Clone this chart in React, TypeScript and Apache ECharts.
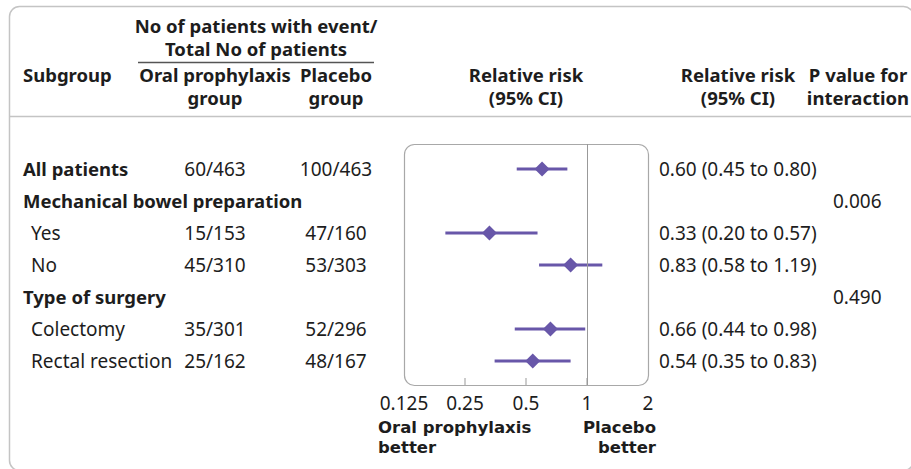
import React, { useEffect, useRef } from "react";
import * as echarts from "echarts";

const subgroups = [
  "All patients",
  "Mechanical bowel preparation",
  "Yes",
  "No",
  "Type of surgery",
  "Colectomy",
  "Rectal resection",
];
const isHeading = [true, true, false, false, true, false, false];
const oralCounts = ["60/463", "", "15/153", "45/310", "", "35/301", "25/162"];
const placeboCounts = ["100/463", "", "47/160", "53/303", "", "52/296", "48/167"];
const rr: (number | null)[] = [0.6, null, 0.33, 0.83, null, 0.66, 0.54];
const lower: (number | null)[] = [0.45, null, 0.2, 0.58, null, 0.44, 0.35];
const upper: (number | null)[] = [0.8, null, 0.57, 1.19, null, 0.98, 0.83];
const rrText = [
  "0.60 (0.45 to 0.80)",
  "",
  "0.33 (0.20 to 0.57)",
  "0.83 (0.58 to 1.19)",
  "",
  "0.66 (0.44 to 0.98)",
  "0.54 (0.35 to 0.83)",
];
const pInteraction = ["", "0.006", "", "", "0.490", "", ""];
const xMin = 0.125;
const xMax = 2;
const refValue = 1;
const innerTicks = [0.25, 0.5, 1];

const FONT = "'Noto Sans', sans-serif";
const FS = 19;
const FSB = 18.5;
const INK = "#1d1d1d";
const PURPLE = "#6857a9";

export default function App() {
  const ref = useRef<HTMLDivElement>(null);
  useEffect(() => {
    document.body.style.margin = "0";
    const chart = echarts.init(ref.current!, undefined, { renderer: "svg" });
    const gridLeft = 404;
    const gridTop = 144;
    const gridW = 244;
    const gridH = 241;
    const yMin = -0.78;
    const yMax = 6.75;

    const ciData: any[] = [];
    const ptData: any[] = [];
    rr.forEach((v, i) => {
      if (v != null) {
        ciData.push([lower[i], upper[i], i]);
        ptData.push([v, i]);
      }
    });

    chart.setOption({
      animation: false,
      textStyle: { fontFamily: FONT },
      grid: { left: gridLeft, top: gridTop, width: gridW, height: gridH },
      xAxis: {
        type: "log",
        logBase: 2,
        min: xMin,
        max: xMax,
        axisLine: { show: false },
        axisTick: { show: false },
        axisLabel: {
          fontSize: FS,
          color: INK,
          margin: 8,
          fontFamily: FONT,
          formatter: (v: number) => String(v),
        },
        splitLine: { show: false },
      },
      yAxis: {
        type: "value",
        inverse: true,
        min: yMin,
        max: yMax,
        show: false,
      },
      series: [
        {
          type: "custom",
          silent: true,
          data: innerTicks.map((t) => [t]),
          renderItem: (params: any, api: any) => {
            const a = api.coord([api.value(0), yMax]);
            return {
              type: "line",
              shape: { x1: a[0], y1: a[1], x2: a[0], y2: a[1] - 7 },
              style: { stroke: "#999", lineWidth: 1 },
            };
          },
          z: 2,
        },
        {
          type: "custom",
          silent: true,
          data: ciData,
          renderItem: (params: any, api: any) => {
            const a = api.coord([api.value(0), api.value(2)]);
            const b = api.coord([api.value(1), api.value(2)]);
            return {
              type: "line",
              shape: { x1: a[0], y1: a[1], x2: b[0], y2: b[1] },
              style: { stroke: PURPLE, lineWidth: 3 },
            };
          },
          markLine: {
            silent: true,
            symbol: "none",
            label: { show: false },
            lineStyle: { color: "#999", width: 1, type: "solid" },
            data: [{ xAxis: refValue }],
          },
          z: 3,
        },
        {
          type: "scatter",
          silent: true,
          symbol: "diamond",
          symbolSize: [15, 15],
          itemStyle: { color: PURPLE, opacity: 1 },
          data: ptData,
          z: 4,
        },
      ],
    });

    const rowY = (i: number) => chart.convertToPixel({ gridIndex: 0 }, [1, i])[1];
    const g: any[] = [];
    const txt = (
      x: number,
      y: number,
      s: string,
      align = "left",
      bold = false,
      size = bold ? FSB : FS,
      family = FONT
    ) =>
      g.push({
        type: "text",
        x,
        y,
        silent: true,
        style: {
          text: s,
          x: 0,
          y: 0,
          align,
          verticalAlign: "middle",
          font: `${bold ? "bold " : ""}${size}px ${family}`,
          fill: INK,
        },
      });

    // outer frame
    g.push({
      type: "rect",
      shape: { x: 9.5, y: 6.5, width: 904, height: 464, r: 10 },
      style: { fill: "none", stroke: "#c4c4c4", lineWidth: 1.5 },
      z: 0,
    });
    // header separator
    g.push({
      type: "line",
      shape: { x1: 9, y1: 116.5, x2: 911, y2: 116.5 },
      style: { stroke: "#c4c4c4", lineWidth: 1.5 },
    });
    // plot box
    g.push({
      type: "rect",
      shape: { x: gridLeft + 0.5, y: gridTop + 0.5, width: gridW, height: gridH, r: 10 },
      style: { fill: "none", stroke: "#a8a8a8", lineWidth: 1.2 },
      z: 1,
    });
    // header
    txt(256, 25, "No of patients with event/", "center", true);
    txt(256, 48, "Total No of patients", "center", true);
    g.push({
      type: "line",
      shape: { x1: 138, y1: 62.5, x2: 374, y2: 62.5 },
      style: { stroke: "#555", lineWidth: 1.5 },
    });
    txt(23, 74, "Subgroup", "left", true);
    const hdr: [number, string, string][] = [
      [215, "Oral prophylaxis", "group"],
      [336, "Placebo", "group"],
      [526, "Relative risk", "(95% CI)"],
      [738, "Relative risk", "(95% CI)"],
      [858, "P value for", "interaction"],
    ];
    hdr.forEach(([x, a, b]) => {
      txt(x, 74, a, "center", true);
      txt(x, 97.5, b, "center", true);
    });

    subgroups.forEach((s, i) => {
      const y = rowY(i);
      txt(isHeading[i] ? 23 : 31, y, s, "left", isHeading[i]);
      if (oralCounts[i]) txt(215, y, oralCounts[i], "center");
      if (placeboCounts[i]) txt(336, y, placeboCounts[i], "center");
      if (rrText[i]) txt(659, y, rrText[i], "left");
      if (pInteraction[i]) txt(833, y, pInteraction[i], "left");
    });

    // favours labels
    const FAV = "'DejaVu Sans', sans-serif";
    txt(378, 427, "Oral prophylaxis", "left", true, 16.5, FAV);
    txt(378, 447, "better", "left", true, 16.5, FAV);
    txt(656, 427, "Placebo", "right", true, 16.5, FAV);
    txt(656, 447, "better", "right", true, 16.5, FAV);

    chart.setOption({ graphic: { elements: g } });

    return () => chart.dispose();
  }, []);
  return <div ref={ref} style={{ width: 911, height: 469 }} />;
}
